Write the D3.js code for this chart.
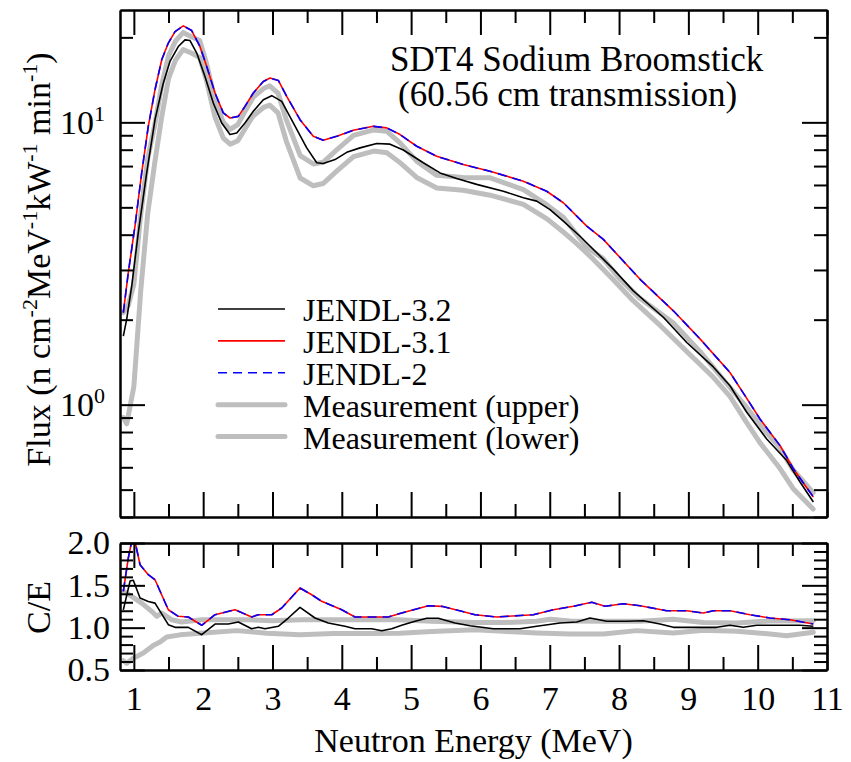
<!DOCTYPE html>
<html>
<head>
<meta charset="utf-8">
<script src="https://cdn.jsdelivr.net/npm/d3@7"></script>
<style>
body { margin: 0; background: #fff; }
</style>
</head>
<body>
<div id="chart-area"></div>
<script>
// ---- data (energy in MeV, flux / C-E) ----
const xMajor = [1, 2, 3, 4, 5, 6, 7, 8, 9, 10, 11]
const xMinor = [1.5, 2.5, 3.5, 4.5, 5.5, 6.5, 7.5, 8.5, 9.5, 10.5]
const fluxMajor = [1, 10]
const fluxMinor = [0.4, 0.5, 0.6, 0.7, 0.8, 0.9, 2, 3, 4, 5, 6, 7, 8, 9, 20]
const ceMajor = [0.5, 1.0, 1.5, 2.0]
const ceMinor = [0.6, 0.7, 0.8, 0.9, 1.1, 1.2, 1.3, 1.4, 1.6, 1.7, 1.8, 1.9]

const seriesNames = ["JENDL-3.2", "JENDL-3.1", "JENDL-2", "Measurement (upper)", "Measurement (lower)"]

const fluxJendl32 = [[0.848,1.75],[0.897,2.01],[0.969,2.63],[1.064,4.07],[1.185,6.62],[1.305,10.22],[1.425,13.78],[1.521,16.43],[1.641,18.56],[1.738,19.6],[1.81,19.49],[1.907,17.59],[2.026,14.54],[2.146,11.71],[2.267,9.95],[2.387,9.05],[2.484,9.17],[2.603,9.95],[2.723,10.94],[2.868,12.03],[2.989,12.43],[3.133,11.87],[3.3,9.95],[3.494,8.12],[3.638,7.19],[3.733,7.15],[3.902,7.38],[4.071,7.83],[4.263,8.12],[4.504,8.41],[4.696,8.37],[4.887,7.98],[5.176,7.19],[5.417,6.62],[5.658,6.32],[5.946,6.03],[6.33,5.7],[6.619,5.41],[6.812,5.26],[7.004,4.91],[7.196,4.47],[7.437,3.95],[7.917,3.02],[8.206,2.53],[8.639,2.04],[8.976,1.66],[9.36,1.36],[9.6,1.167],[9.842,0.94],[10.13,0.756],[10.419,0.634],[10.611,0.532],[10.803,0.452]]
const fluxJendl31 = [[0.848,2.12],[0.92,2.94],[1.016,4.29],[1.113,6.62],[1.208,9.68],[1.305,13.05],[1.402,16.66],[1.497,19.09],[1.594,20.97],[1.713,21.97],[1.834,21.14],[1.954,18.56],[2.051,15.78],[2.171,12.7],[2.29,10.8],[2.387,10.36],[2.507,10.5],[2.603,11.39],[2.723,12.7],[2.868,13.96],[2.964,14.35],[3.084,14.07],[3.205,12.36],[3.397,10.22],[3.589,8.92],[3.733,8.64],[3.927,8.92],[4.166,9.37],[4.455,9.68],[4.648,9.56],[4.84,9.05],[5.081,8.23],[5.369,7.58],[5.753,7.09],[6.138,6.71],[6.619,6.19],[6.956,5.7],[7.196,5.19],[7.534,4.29],[7.773,3.85],[8.014,3.32],[8.303,2.78],[8.783,2.15],[9.168,1.71],[9.6,1.3],[9.817,1.076],[10.033,0.89],[10.322,0.716],[10.514,0.593],[10.803,0.471]]
const fluxJendl2 = [[0.848,2.12],[0.92,2.94],[1.016,4.29],[1.113,6.62],[1.208,9.68],[1.305,13.05],[1.402,16.66],[1.497,19.09],[1.594,20.97],[1.713,21.97],[1.834,21.14],[1.954,18.56],[2.051,15.78],[2.171,12.7],[2.29,10.8],[2.387,10.36],[2.507,10.5],[2.603,11.39],[2.723,12.7],[2.868,13.96],[2.964,14.35],[3.084,14.07],[3.205,12.36],[3.397,10.22],[3.589,8.92],[3.733,8.64],[3.927,8.92],[4.166,9.37],[4.455,9.68],[4.648,9.56],[4.84,9.05],[5.081,8.23],[5.369,7.58],[5.753,7.09],[6.138,6.71],[6.619,6.19],[6.956,5.7],[7.196,5.19],[7.534,4.29],[7.773,3.85],[8.014,3.32],[8.303,2.78],[8.783,2.15],[9.168,1.71],[9.6,1.3],[9.817,1.076],[10.033,0.89],[10.322,0.716],[10.514,0.593],[10.803,0.471]]
const fluxUpper = [[0.848,2.12],[0.92,2.25],[1.0,2.67],[1.1,4.74],[1.2,7.44],[1.3,9.75],[1.4,13.5],[1.5,17.2],[1.6,19.4],[1.71,20.8],[1.83,20.1],[1.95,19.5],[2.05,16.1],[2.17,12.04],[2.29,10.0],[2.39,9.44],[2.5,9.82],[2.6,10.9],[2.72,12.25],[2.87,13.17],[2.96,13.47],[3.08,12.7],[3.2,10.2],[3.4,7.62],[3.59,7.12],[3.73,7.22],[3.93,8.0],[4.17,8.99],[4.46,9.4],[4.65,9.29],[4.84,8.46],[5.08,7.29],[5.37,6.49],[5.75,6.38],[6.14,6.36],[6.62,5.78],[6.96,5.1],[7.2,4.6],[7.53,3.62],[7.77,3.29],[8.01,2.79],[8.3,2.38],[8.78,1.95],[9.17,1.54],[9.6,1.15],[9.82,0.993],[10.03,0.851],[10.32,0.703],[10.51,0.588],[10.8,0.488]]
const fluxLower = [[0.848,0.9],[0.897,0.855],[0.94,0.97],[1.0,1.16],[1.1,2.55],[1.2,4.76],[1.3,7.16],[1.4,10.4],[1.5,14.3],[1.6,16.6],[1.71,18.1],[1.83,17.6],[1.95,16.96],[2.05,14.0],[2.17,10.46],[2.29,8.79],[2.39,8.37],[2.5,8.61],[2.6,9.45],[2.72,10.53],[2.87,11.29],[2.96,11.5],[3.08,10.8],[3.2,8.57],[3.4,6.35],[3.59,5.96],[3.73,6.07],[3.93,6.73],[4.17,7.56],[4.46,7.91],[4.65,7.81],[4.84,7.2],[5.08,6.38],[5.37,5.85],[5.75,5.75],[6.14,5.52],[6.62,5.12],[6.96,4.55],[7.2,4.08],[7.39,3.72],[7.63,3.27],[7.9,2.8],[8.2,2.34],[8.6,1.9],[8.98,1.54],[9.36,1.25],[9.6,1.07],[9.82,0.88],[10.03,0.735],[10.32,0.595],[10.51,0.505],[10.8,0.427]]

const ceJendl32 = [[0.848,1.21],[0.945,1.55],[0.992,1.56],[1.089,1.35],[1.208,1.31],[1.305,1.29],[1.497,1.035],[1.594,1.004],[1.785,1.004],[1.979,0.917],[2.171,1.043],[2.363,1.043],[2.507,1.067],[2.699,0.988],[2.795,1.004],[2.892,0.988],[3.084,1.016],[3.228,1.114],[3.397,1.24],[3.613,1.114],[3.805,1.055],[4.046,1.016],[4.19,0.988],[4.432,0.988],[4.576,0.964],[4.72,0.988],[4.864,1.028],[5.056,1.075],[5.225,1.111],[5.392,1.111],[5.633,1.055],[5.85,1.023],[6.186,0.988],[6.571,0.988],[6.812,1.016],[7.148,1.055],[7.389,1.067],[7.581,1.114],[7.822,1.075],[8.111,1.075],[8.35,1.082],[8.591,1.043],[8.783,1.004],[9.024,1.004],[9.409,1.004],[9.6,1.028],[9.793,1.004],[9.986,1.028],[10.611,1.028],[10.803,1.016]]
const ceJendl31 = [[0.848,1.43],[0.92,1.823],[0.969,2.02],[1.016,2.02],[1.089,1.744],[1.208,1.626],[1.305,1.566],[1.497,1.212],[1.641,1.134],[1.785,1.126],[1.979,1.028],[2.171,1.153],[2.459,1.212],[2.7,1.126],[2.795,1.153],[2.989,1.153],[3.133,1.232],[3.397,1.468],[3.566,1.389],[3.71,1.311],[3.999,1.212],[4.19,1.126],[4.671,1.126],[4.864,1.173],[5.248,1.259],[5.441,1.252],[5.73,1.193],[5.922,1.153],[6.235,1.126],[6.763,1.153],[7.052,1.212],[7.34,1.252],[7.606,1.3],[7.798,1.252],[8.062,1.283],[8.303,1.259],[8.688,1.2],[8.976,1.2],[9.216,1.173],[9.36,1.2],[9.6,1.2],[9.889,1.153],[10.178,1.114],[10.466,1.094],[10.803,1.043]]
const ceJendl2 = [[0.848,1.43],[0.92,1.823],[0.969,2.02],[1.016,2.02],[1.089,1.744],[1.208,1.626],[1.305,1.566],[1.497,1.212],[1.641,1.134],[1.785,1.126],[1.979,1.028],[2.171,1.153],[2.459,1.212],[2.7,1.126],[2.795,1.153],[2.989,1.153],[3.133,1.232],[3.397,1.468],[3.566,1.389],[3.71,1.311],[3.999,1.212],[4.19,1.126],[4.671,1.126],[4.864,1.173],[5.248,1.259],[5.441,1.252],[5.73,1.193],[5.922,1.153],[6.235,1.126],[6.763,1.153],[7.052,1.212],[7.34,1.252],[7.606,1.3],[7.798,1.252],[8.062,1.283],[8.303,1.259],[8.688,1.2],[8.976,1.2],[9.216,1.173],[9.36,1.2],[9.6,1.2],[9.889,1.153],[10.178,1.114],[10.466,1.094],[10.803,1.043]]
const ceUpper = [[0.848,1.43],[0.969,1.37],[1.113,1.29],[1.257,1.193],[1.33,1.134],[1.402,1.173],[1.546,1.094],[1.69,1.067],[1.979,1.094],[2.315,1.094],[2.651,1.094],[2.989,1.082],[3.422,1.094],[3.854,1.094],[4.335,1.094],[4.815,1.094],[5.297,1.075],[5.922,1.06],[6.33,1.06],[6.812,1.075],[7.004,1.1],[7.293,1.08],[7.773,1.075],[8.303,1.075],[8.783,1.1],[9.216,1.06],[9.698,1.055],[10.178,1.08],[10.803,1.082]]
const ceLower = [[0.848,0.61],[0.897,0.58],[0.992,0.64],[1.136,0.7],[1.28,0.79],[1.377,0.83],[1.474,0.89],[1.666,0.915],[1.954,0.935],[2.484,0.965],[2.917,0.935],[3.397,0.915],[3.877,0.93],[4.36,0.93],[4.84,0.935],[5.297,0.955],[5.922,0.975],[6.33,0.957],[6.812,0.937],[7.293,0.925],[7.773,0.925],[8.255,0.965],[8.783,0.937],[9.216,0.97],[9.698,0.957],[10.178,0.925],[10.419,0.905],[10.803,0.945]]

// ---- layout ----
const FONT = "Liberation Serif"
const WIDTH = 851, HEIGHT = 762
const LEFT = 120, RIGHT = 827
const MAIN = { TOP: 10, BOTTOM: 517 }
const RATIO = { TOP: 543, BOTTOM: 670 }
const MAJOR = 25, MINOR = 13

// line styles, in the same order as seriesNames
const styles = [
    { color: "#000000", width: 1.6, dash: null },
    { color: "#ff0000", width: 1.6, dash: null },
    { color: "#0000ff", width: 1.6, dash: "9,6" },
    { color: "#bebebe", width: 5, dash: null },
    { color: "#bebebe", width: 5, dash: null }
]

const svg = d3.select("#chart-area").append("svg")
    .attr("width", WIDTH)
    .attr("height", HEIGHT)
    .style("font-family", FONT)

const x = d3.scaleLinear().domain([0.8, 11]).range([LEFT, RIGHT])
const yMain = d3.scaleLog().domain([0.4, 25]).range([MAIN.BOTTOM, MAIN.TOP])
const yRatio = d3.scaleLinear().domain([0.5, 2.0]).range([RATIO.BOTTOM, RATIO.TOP])

svg.append("clipPath").attr("id", "clip-main").append("rect")
    .attr("x", LEFT).attr("y", MAIN.TOP).attr("width", RIGHT - LEFT).attr("height", MAIN.BOTTOM - MAIN.TOP)
svg.append("clipPath").attr("id", "clip-ratio").append("rect")
    .attr("x", LEFT).attr("y", RATIO.TOP).attr("width", RIGHT - LEFT).attr("height", RATIO.BOTTOM - RATIO.TOP)

// draw order: measurements under the calculations
const drawOrder = [3, 4, 0, 1, 2]

function drawCurves(sets, y, clip) {
    const line = d3.line().x(d => x(d[0])).y(d => y(d[1]))
    const g = svg.append("g").attr("clip-path", `url(#${clip})`)
    drawOrder.forEach(i => {
        g.append("path")
            .attr("d", line(sets[i]))
            .attr("fill", "none")
            .attr("stroke", styles[i].color)
            .attr("stroke-width", styles[i].width)
            .attr("stroke-dasharray", styles[i].dash)
            .attr("stroke-linecap", styles[i].width > 3 ? "round" : "butt")
            .attr("stroke-linejoin", "round")
    })
}

drawCurves([fluxJendl32, fluxJendl31, fluxJendl2, fluxUpper, fluxLower], yMain, "clip-main")
drawCurves([ceJendl32, ceJendl31, ceJendl2, ceUpper, ceLower], yRatio, "clip-ratio")

// ---- axes (ticks point inward on all four sides) ----
function styleAxis(sel) {
    sel.selectAll("line").attr("stroke", "#000").attr("stroke-width", 2)
    sel.select(".domain").attr("stroke", "#000").attr("stroke-width", 2)
    sel.attr("font-size", 34).attr("font-family", null)
    sel.selectAll("text").style("font-family", FONT).attr("fill", "#000")
}

function addAxis(axis, tx, ty) {
    return svg.append("g")
        .attr("transform", `translate(${tx}, ${ty})`)
        .call(axis)
        .call(styleAxis)
}

function frame(y, top, bottom, majorY, minorY) {
    addAxis(d3.axisTop(x).tickValues(xMajor).tickSize(-MAJOR).tickSizeOuter(0).tickFormat(""), 0, top)
    addAxis(d3.axisTop(x).tickValues(xMinor).tickSize(-MINOR).tickSizeOuter(0).tickFormat(""), 0, top)
    addAxis(d3.axisBottom(x).tickValues(xMinor).tickSize(-MINOR).tickSizeOuter(0).tickFormat(""), 0, bottom)
    addAxis(d3.axisRight(y).tickValues(majorY).tickSize(-MAJOR).tickSizeOuter(0).tickFormat(""), RIGHT, 0)
    addAxis(d3.axisRight(y).tickValues(minorY).tickSize(-MINOR).tickSizeOuter(0).tickFormat(""), RIGHT, 0)
    addAxis(d3.axisLeft(y).tickValues(minorY).tickSize(-MINOR).tickSizeOuter(0).tickFormat(""), LEFT, 0)
}

// main panel
frame(yMain, MAIN.TOP, MAIN.BOTTOM, fluxMajor, fluxMinor)
addAxis(d3.axisBottom(x).tickValues(xMajor).tickSize(-MAJOR).tickSizeOuter(0).tickFormat(""), 0, MAIN.BOTTOM)
const yMainAxis = addAxis(d3.axisLeft(yMain).tickValues(fluxMajor).tickSize(-MAJOR).tickSizeOuter(0).tickPadding(15), LEFT, 0)
yMainAxis.selectAll(".tick text").each(function(d) {
    const t = d3.select(this).text(null)
    t.append("tspan").text("10")
    t.append("tspan").attr("dy", -13).attr("font-size", 22).text(Math.round(Math.log10(d)))
})

// ratio panel
frame(yRatio, RATIO.TOP, RATIO.BOTTOM, ceMajor, ceMinor)
addAxis(d3.axisBottom(x).tickValues(xMajor).tickSize(-MAJOR).tickSizeOuter(0).tickPadding(16).tickFormat(d3.format("d")), 0, RATIO.BOTTOM)
addAxis(d3.axisLeft(yRatio).tickValues(ceMajor).tickSize(-MAJOR).tickSizeOuter(0).tickPadding(10).tickFormat(d3.format(".1f")), LEFT, 0)

// ---- titles ----
function label() {
    return svg.append("text").style("font-family", FONT).attr("fill", "#000")
}

label()
    .attr("x", (LEFT + RIGHT) / 2)
    .attr("y", 752)
    .attr("font-size", 34)
    .attr("text-anchor", "middle")
    .text("Neutron Energy (MeV)")

const yTitle = label()
    .attr("transform", `translate(50, ${(MAIN.TOP + MAIN.BOTTOM) / 2 - 4}) rotate(-90)`)
    .attr("font-size", 34)
    .attr("text-anchor", "middle")
const yTitleParts = [["Flux (n cm", false], ["-2", true], ["MeV", false], ["-1", true], ["kW", false], ["-1", true], [" min", false], ["-1", true], [")", false]]
yTitleParts.forEach(([s, sup], i) => {
    const prevSup = i > 0 && yTitleParts[i - 1][1]
    yTitle.append("tspan")
        .attr("font-size", sup ? 22 : 34)
        .attr("dy", sup ? -13 : (prevSup ? 13 : 0))
        .text(s)
})

label()
    .attr("transform", `translate(50, ${(RATIO.TOP + RATIO.BOTTOM) / 2 + 1}) rotate(-90)`)
    .attr("font-size", 34)
    .attr("text-anchor", "middle")
    .text("C/E")

label().attr("x", 390).attr("y", 71).attr("font-size", 35).text("SDT4 Sodium Broomstick")
label().attr("x", 398).attr("y", 106).attr("font-size", 35).text("(60.56 cm transmission)")

// ---- legend ----
seriesNames.forEach((name, i) => {
    const cy = 309 + i * 31.9
    svg.append("line")
        .attr("x1", 218).attr("x2", 285)
        .attr("y1", cy).attr("y2", cy)
        .attr("stroke", styles[i].color)
        .attr("stroke-width", styles[i].width)
        .attr("stroke-dasharray", styles[i].dash)
        .attr("stroke-linecap", styles[i].width > 3 ? "round" : "butt")
    label()
        .attr("x", 303).attr("y", cy + 12)
        .attr("font-size", 32)
        .text(name)
})
</script>
</body>
</html>
